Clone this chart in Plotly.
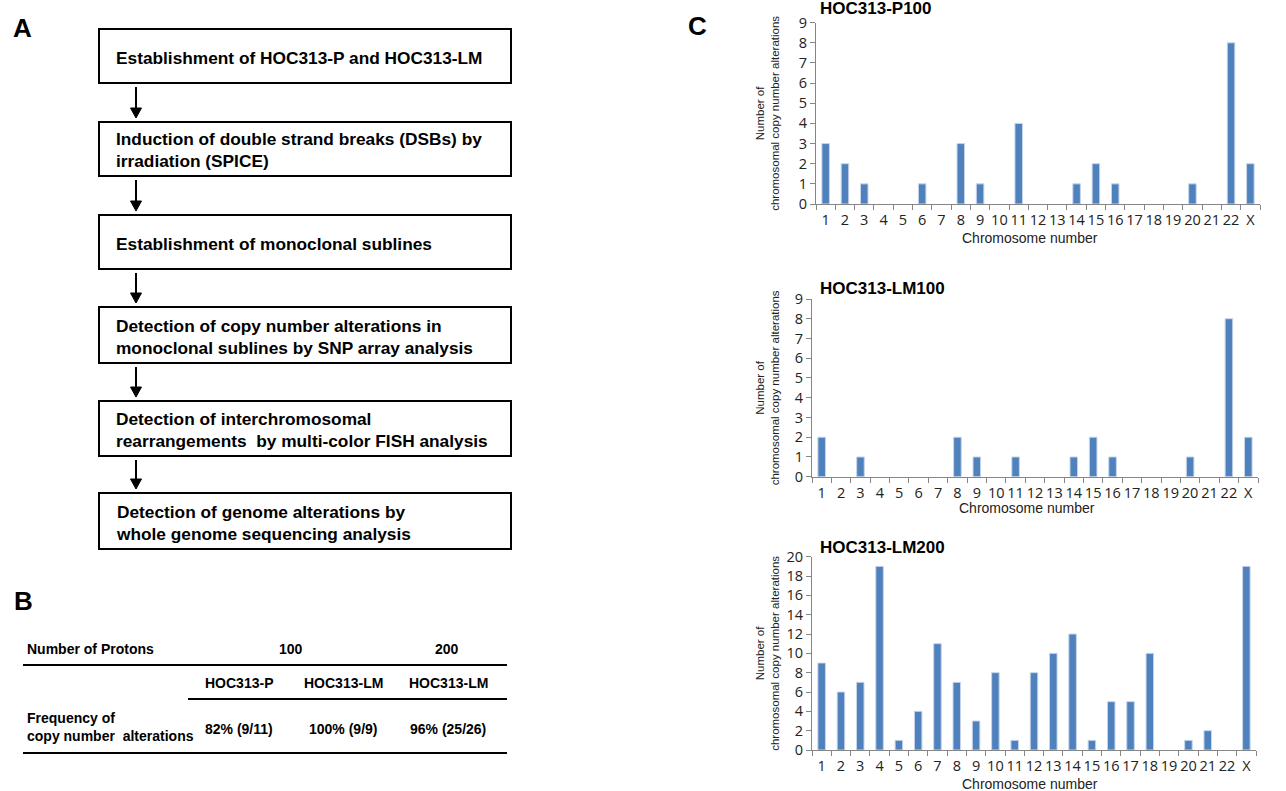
import plotly.graph_objects as go

# ---------------- data ----------------
chromosomes = [str(i) for i in range(1, 23)] + ["X"]
p100 = [3, 2, 1, 0, 0, 1, 0, 3, 1, 0, 4, 0, 0, 1, 2, 1, 0, 0, 0, 1, 0, 8, 2]
lm100 = [2, 0, 1, 0, 0, 0, 0, 2, 1, 0, 1, 0, 0, 1, 2, 1, 0, 0, 0, 1, 0, 8, 2]
lm200 = [9, 6, 7, 19, 1, 4, 11, 7, 3, 8, 1, 8, 10, 12, 1, 5, 5, 10, 0, 1, 2, 0, 19]
chart_titles = ["HOC313-P100", "HOC313-LM100", "HOC313-LM200"]

flow_steps = [
    "Establishment of HOC313-P and HOC313-LM",
    "Induction of double strand breaks (DSBs) by<br>irradiation (SPICE)",
    "Establishment of monoclonal sublines",
    "Detection of copy number alterations in<br>monoclonal sublines by SNP array analysis",
    "Detection of interchromosomal<br>rearrangements  by multi-color FISH analysis",
    "Detection of genome alterations by<br>whole genome sequencing analysis",
]

table_row_label = "Number of Protons"
proton_numbers = ["100", "200"]
cell_lines = ["HOC313-P", "HOC313-LM", "HOC313-LM"]
freq_label = "Frequency of<br>copy number  alterations"
freq_values = ["82% (9/11)", "100% (9/9)", "96% (25/26)"]

# ---------------- layout helpers ----------------
W, H = 1286, 791


def fx(px):
    return px / W


def fy(py):
    return 1 - py / H


BAR = "#4F81BD"
AXC = "#868686"
TICKFONT = dict(family="Open Sans, Lato, sans-serif", size=14.5, color="#222222")

fig = go.Figure()

series = [p100, lm100, lm200]
axis_ids = ["", "2", "3"]
for vals, aid in zip(series, axis_ids):
    fig.add_trace(go.Bar(
        x=chromosomes, y=vals,
        xaxis="x" + aid, yaxis="y" + aid,
        marker=dict(color=BAR,
                    line=dict(color="#C6D5EA", width=[1 if v > 0 else 0 for v in vals])),
        showlegend=False,
    ))

# plot areas (pixel boxes): x0, x1, ytop, ybottom
boxes = [(816, 1260, 22.7, 204), (812, 1258, 299, 476.7), (812, 1256, 556.7, 750)]
yranges = [(0, 9, 1), (0, 9, 1), (0, 20, 2)]
title_y = [8.5, 288, 547]
xtitle_pos = [(1030, 238), (1027, 508), (1030, 784)]

layout_axes = {}
annotations = []
for i, (aid, (x0, x1, yt, yb), (ymin, ymax, dt)) in enumerate(zip(axis_ids, boxes, yranges)):
    layout_axes["xaxis" + aid] = dict(
        domain=[fx(x0), fx(x1)], anchor="y" + aid, type="category",
        range=[-0.5, len(chromosomes) - 0.5],
        showline=True, linecolor=AXC, linewidth=1,
        ticks="outside", tickson="boundaries", ticklen=5, tickcolor=AXC,
        tickangle=0, tickfont=TICKFONT, showgrid=False, zeroline=False,
        ticklabelstandoff=3,
        fixedrange=True, automargin=False,
    )
    layout_axes["yaxis" + aid] = dict(
        domain=[fy(yb), fy(yt)], anchor="x" + aid,
        range=[ymin, ymax], dtick=dt, tick0=0,
        showline=True, linecolor=AXC, linewidth=1,
        ticks="outside", ticklen=5, tickcolor=AXC,
        tickfont=TICKFONT, showgrid=False, zeroline=False,
        fixedrange=True, automargin=False,
    )
    # chart title
    annotations.append(dict(
        text=chart_titles[i], x=fx(818), y=fy(title_y[i]), xref="paper", yref="paper",
        xanchor="left", yanchor="middle", showarrow=False,
        font=dict(family="Liberation Sans, Arial", size=17, color="black", weight="bold"),
    ))
    # y-axis title
    annotations.append(dict(
        text="Number of<br>chromosomal copy number alterations",
        x=fx(767.5), y=fy((yt + yb) / 2), xref="paper", yref="paper",
        xanchor="center", yanchor="middle", textangle=-90, showarrow=False,
        font=dict(family="Liberation Sans, Arial", size=11.5, color="#222222"),
    ))
    # x-axis title
    annotations.append(dict(
        text="Chromosome number", x=fx(xtitle_pos[i][0]), y=fy(xtitle_pos[i][1]),
        xref="paper", yref="paper", xanchor="center", yanchor="middle", showarrow=False,
        font=dict(family="Liberation Sans, Arial", size=14, color="#222222"),
    ))

# ---------------- panel A: flowchart ----------------
shapes = []
box_y = [(29, 83), (122, 176), (215, 269), (307, 363), (401, 456), (493, 549)]
FLOWFONT = dict(family="Liberation Sans, Arial", size=17.3, color="black", weight="bold")
for (t, b), txt in zip(box_y, flow_steps):
    shapes.append(dict(type="rect", xref="paper", yref="paper",
                       x0=fx(99), x1=fx(511), y0=fy(b), y1=fy(t),
                       line=dict(color="black", width=2), fillcolor="white"))
    annotations.append(dict(
        text=txt, x=fx(114), y=fy((t + b) / 2 + 1.5), xref="paper", yref="paper",
        xanchor="left", yanchor="middle", align="left", showarrow=False, font=FLOWFONT,
    ))
for k in range(len(box_y) - 1):
    y_start = box_y[k][1] + 4
    y_tip = box_y[k + 1][0] - 4
    shapes.append(dict(type="line", xref="paper", yref="paper",
                       x0=fx(136), x1=fx(136), y0=fy(y_start), y1=fy(y_tip - 8),
                       line=dict(color="black", width=2)))
    shapes.append(dict(type="path", xref="paper", yref="paper",
                       path=f"M {fx(130.5)} {fy(y_tip - 10)} L {fx(141.5)} {fy(y_tip - 10)} "
                            f"L {fx(136)} {fy(y_tip)} Z",
                       fillcolor="black", line=dict(color="black", width=1)))

# ---------------- panel B: table ----------------
TFONT = dict(family="Liberation Sans Narrow, Arial Narrow, Liberation Sans", size=14,
             color="black", weight="bold")
col_x = [239, 343, 448]
annotations.append(dict(text=table_row_label, x=fx(25), y=fy(649), xref="paper", yref="paper",
                        xanchor="left", yanchor="middle", showarrow=False, font=TFONT))
annotations.append(dict(text=proton_numbers[0], x=fx(291), y=fy(649), xref="paper", yref="paper",
                        xanchor="center", yanchor="middle", showarrow=False, font=TFONT))
annotations.append(dict(text=proton_numbers[1], x=fx(447), y=fy(649), xref="paper", yref="paper",
                        xanchor="center", yanchor="middle", showarrow=False, font=TFONT))
for cx, name, val in zip(col_x, cell_lines, freq_values):
    annotations.append(dict(text=name, x=fx(cx), y=fy(683), xref="paper", yref="paper",
                            xanchor="center", yanchor="middle", showarrow=False, font=TFONT))
    annotations.append(dict(text=val, x=fx(cx), y=fy(729), xref="paper", yref="paper",
                            xanchor="center", yanchor="middle", showarrow=False, font=TFONT))
annotations.append(dict(text=freq_label, x=fx(25), y=fy(727), xref="paper", yref="paper",
                        xanchor="left", yanchor="middle", align="left", showarrow=False, font=TFONT))
for (lx0, lx1, ly) in [(23, 507, 665), (188, 507, 699), (23, 507, 753)]:
    shapes.append(dict(type="line", xref="paper", yref="paper",
                       x0=fx(lx0), x1=fx(lx1), y0=fy(ly), y1=fy(ly),
                       line=dict(color="black", width=2)))

# ---------------- panel labels ----------------
PFONT = dict(family="Liberation Sans, Arial", size=26, color="black", weight="bold")
for lab, (px_, py_) in zip(["A", "B", "C"], [(22, 28), (23, 601), (697, 26)]):
    annotations.append(dict(text=lab, x=fx(px_), y=fy(py_), xref="paper", yref="paper",
                            xanchor="center", yanchor="middle", showarrow=False, font=PFONT))

fig.update_layout(
    width=W, height=H, autosize=False,
    margin=dict(l=0, r=0, t=0, b=0, pad=0, autoexpand=False),
    paper_bgcolor="white", plot_bgcolor="white",
    bargap=0.61,
    shapes=shapes, annotations=annotations,
    **layout_axes,
)

fig.write_html(
    "out.html",
    config={"displayModeBar": False},
    post_script="document.body.style.margin='0';document.body.style.padding='0';"
                "document.body.style.overflow='hidden';",
)
